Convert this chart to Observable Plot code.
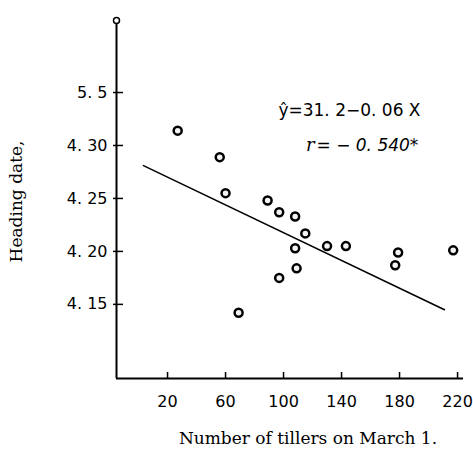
<!DOCTYPE html>
<html>
<head>
<meta charset="utf-8">
<script src="https://cdn.jsdelivr.net/npm/d3@7"></script>
<script src="https://cdn.jsdelivr.net/npm/@observablehq/plot@0.6"></script>
<style>
  html, body { margin: 0; padding: 0; background: #fff; }
  #chart { width: 473px; height: 454px; }
</style>
</head>
<body>
<div id="chart"></div>
<script>
// Number of tillers on March 1 (x) and heading date (y, day of April; 35 = May 5)
const tillers = [27, 56, 60, 89, 97, 108, 115, 108, 130, 143, 179, 177, 217, 109, 97, 69];
const heading = [31.4, 28.9, 25.5, 24.8, 23.7, 23.3, 21.7, 20.3, 20.5, 20.5, 19.9, 18.7, 20.1, 18.4, 17.5, 14.2];

// Regression line end points as drawn
const fitX = [3.4, 211];
const fitY = [28.1, 14.5];

// Axes
const xTicks = [20, 60, 100, 140, 180, 220];
const yTicks = [15, 20, 25, 30, 35];
const yTickLabels = ["4. 15", "4. 20", "4. 25", "4. 30", "5. 5"];
const xDomain = [-15.2, 224.1];
const yDomain = [8.0, 41.8];

const eqText = "ŷ=31. 2−0. 06 X";
const rSymbol = "r";
const rText = "= − 0. 540*";
const xLabel = "Number of tillers on March 1.";
const yLabel = "Heading date,";

const points = tillers.map((x, i) => ({x, y: heading[i]}));
const fit = fitX.map((x, i) => ({x, y: fitY[i]}));

const sans = "DejaVu Sans";
const serif = "DejaVu Serif";

// tick lengths expressed in data units of each scale (derived from the domains)
const xPerPx = (xDomain[1] - xDomain[0]) / (473 - 116 - 10);
const yPerPx = (yDomain[1] - yDomain[0]) / (454 - 20 - 76);

const chart = Plot.plot({
  width: 473,
  height: 454,
  marginLeft: 116,
  marginRight: 10,
  marginTop: 20,
  marginBottom: 76,
  style: {fontFamily: sans, fontSize: "16px", color: "#000", background: "#fff"},
  x: {domain: xDomain},
  y: {domain: yDomain},
  marks: [
    Plot.ruleX([xDomain[0]], {stroke: "#000", strokeWidth: 2}),
    Plot.ruleY([yDomain[0]], {stroke: "#000", strokeWidth: 2}),
    Plot.dot([xDomain[0]], {x: d => d, y: () => yDomain[1], r: 3, stroke: "#000", strokeWidth: 1.5, fill: "#fff"}),
    Plot.ruleX(xTicks, {x: d => d, y1: () => yDomain[0], y2: () => yDomain[0] + 6 * yPerPx, stroke: "#000", strokeWidth: 1.5}),
    Plot.ruleY(yTicks, {y: d => d, x1: () => xDomain[0] - 3 * xPerPx, x2: () => xDomain[0] + 7 * xPerPx, stroke: "#000", strokeWidth: 1.5}),
    Plot.axisX({ticks: xTicks, tickSize: 0, tickPadding: 17, fontSize: 16, fontFamily: sans, label: null}),
    Plot.axisY({ticks: yTicks, tickSize: 0, tickPadding: 9, fontSize: 16, fontFamily: sans,
      tickFormat: d => yTickLabels[yTicks.indexOf(d)], label: null}),
    Plot.line(fit, {x: "x", y: "y", stroke: "#000", strokeWidth: 1.6}),
    Plot.dot(points, {x: "x", y: "y", r: 4, stroke: "#000", strokeWidth: 2.5, fill: "#f4f4f4"}),
    Plot.text([eqText], {frameAnchor: "top-right", textAnchor: "end", lineAnchor: "middle",
      dx: -43, dy: 90, fontSize: 17, fontFamily: sans, fill: "#000"}),
    Plot.text([rSymbol], {frameAnchor: "top-right", textAnchor: "end", lineAnchor: "middle",
      dx: -149, dy: 125, fontSize: 18, fontFamily: serif, fontStyle: "italic", fill: "#000"}),
    Plot.text([rText], {frameAnchor: "top-right", textAnchor: "start", lineAnchor: "middle",
      dx: -147, dy: 125, fontSize: 17, fontFamily: sans, fontStyle: "italic", fill: "#000"}),
    Plot.text([xLabel], {frameAnchor: "bottom", textAnchor: "middle", lineAnchor: "middle", dx: 18, dy: 60,
      fontSize: 17, fontFamily: serif, fill: "#000"}),
    Plot.text([yLabel], {frameAnchor: "left", textAnchor: "middle", lineAnchor: "middle", rotate: -90, dx: -100, dy: 2,
      fontSize: 17, fontFamily: serif, fill: "#000"})
  ]
});
document.getElementById("chart").appendChild(chart);
</script>
</body>
</html>
